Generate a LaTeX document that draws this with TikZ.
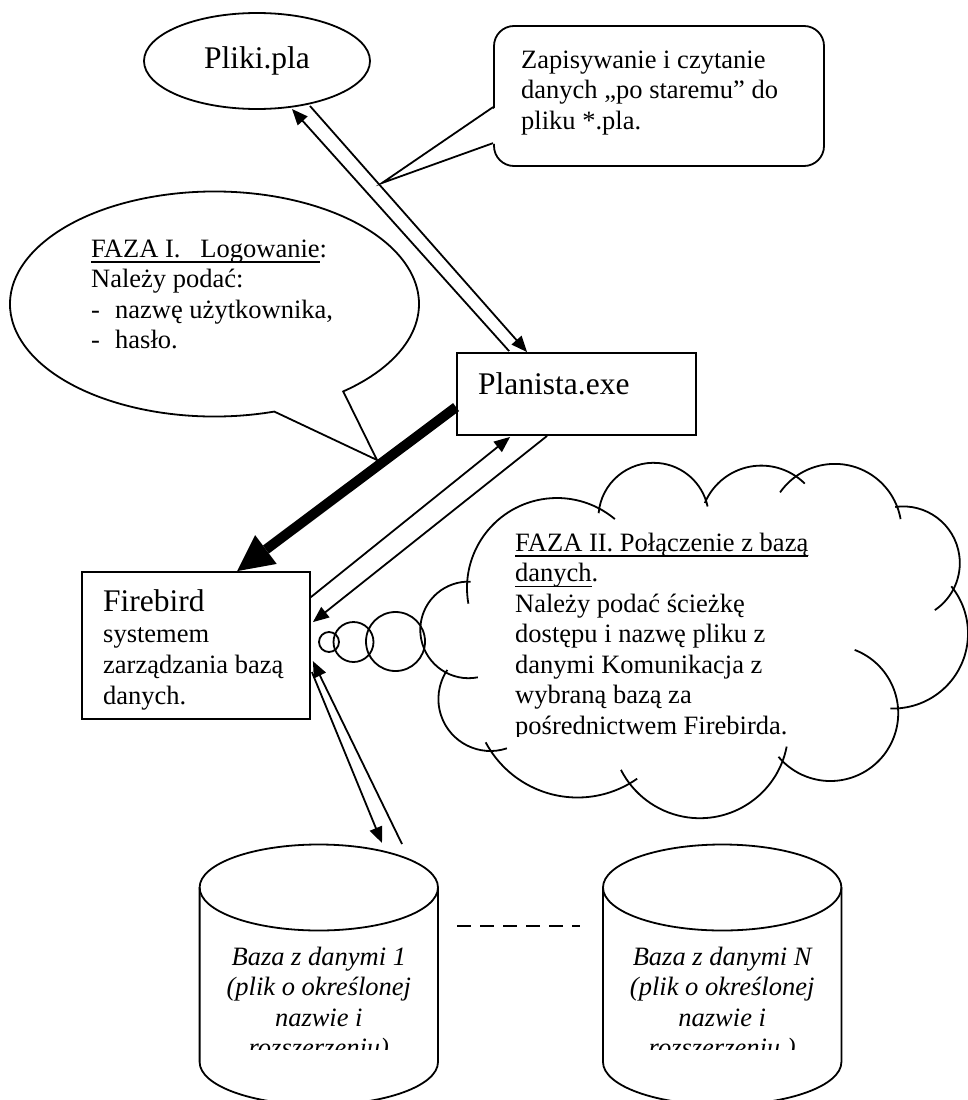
\documentclass[tikz,border=0pt]{standalone}
\usepackage{fontspec}
\setmainfont{Liberation Serif}
\usetikzlibrary{arrows.meta,calc,shapes.geometric}
\newcommand\fsmall{\fontsize{26.5}{30.5}\selectfont}
\newcommand\fbig{\fontsize{31.5}{31}\selectfont}
\newcommand\myul[1]{\setbox0\hbox{#1}\rlap{\rule[-5.5pt]{\wd0}{1.5pt}}\box0}
\newcommand\cloudarc[5]{\draw[ln] ($(#1,#2)+(#4:#3)$) arc[start angle=#4, end angle=#5, radius=#3];}
\tikzset{
  ln/.style={line width=1.8pt},
  box/.style={draw, line width=1.8pt, inner sep=0pt},
  txt/.style={inner sep=0pt, font=\fsmall},
  arr/.style={line width=1.8pt, -{Triangle[length=16pt,width=13pt]}},
}
\begin{document}
\begin{tikzpicture}[x=1pt,y=-1pt]
\useasboundingbox (0,0) rectangle (968,1100);
\fill[white] (0,0) rectangle (968,1100);
\clip (0,0) rectangle (968,1100);

% Pliki.pla
\node[box, ellipse, minimum width=226pt, minimum height=96pt] (pliki) at (257,61) {};
\node[txt, font=\fbig, anchor=base] (plikit) at (257,68) {Pliki.pla};

% rounded callout
\node[box, rounded corners=20pt, minimum width=330pt, minimum height=140pt] (call) at (659,96) {};
\coordinate (ca) at ($(call.north west)+(0,82)$);
\coordinate (cb) at ($(call.north west)+(0,118)$);
\coordinate (calltip) at (382,183);
\fill[white] ($(ca)+(3,0)$) -- (calltip) -- ($(cb)+(3,0)$) -- cycle;
\draw[ln] (ca) -- (calltip) -- (cb);
\node[txt, anchor=base west] (callt) at (521,68) {\begin{tabular}[t]{@{}l@{}}Zapisywanie i czytanie\\danych „po staremu” do\\pliku *.pla.\end{tabular}};

% FAZA I callout
\coordinate (e1) at (214.5,304);
\coordinate (f1tip) at (377,460);
\draw[ln] ($(e1)+(73:204.5 and 112.5)$) arc[start angle=73, end angle=411, x radius=204.5, y radius=112.5] -- (f1tip) -- cycle;
\node[txt, anchor=base west] (f1t) at (91,257) {\begin{tabular}[t]{@{}l@{}}\myul{FAZA I.\hspace{20pt}Logowanie}:\\Należy podać:\\\makebox[24pt][l]{-}nazwę użytkownika,\\\makebox[24pt][l]{-}hasło.\end{tabular}};

% Planista
\node[box, minimum width=239pt, minimum height=82pt] (plan) at (576.5,394) {};
\node[txt, font=\fbig, anchor=base west] (plant) at (478,394) {Planista.exe};

% Firebird
\node[box, minimum width=228pt, minimum height=147pt] (fb) at (196,645.5) {};
\node[txt, font=\fontsize{26.5}{31.2}\selectfont, anchor=base west] (fbt) at (103,611) {\begin{tabular}[t]{@{}l@{}}{\fbig Firebird}\\systemem\\zarządzania bazą\\danych.\end{tabular}};

% arrows Pliki <-> Planista
\draw[arr] ($(plan.north west)+(53,-1)$) -- ($(pliki.center)+(35,48)$);
\draw[arr] ($(pliki.center)+(53,45)$) -- ($(plan.north west)+(71,0)$);

% thick arrow Planista -> Firebird
\draw[line width=10pt, -{Triangle[length=36pt,width=36pt,line width=0pt]}] ($(plan.north west)+(0,55)$) -- ($(fb.north west)+(156,0)$);

% Firebird <-> Planista
\draw[arr] ($(fb.north east)+(0,26)$) -- ($(plan.south west)+(54,1)$);
\draw[arr] ($(plan.south west)+(91,0)$) -- ($(fb.north east)+(2,51)$);

% cylinders
\coordinate (cyl1) at (318.8,887.5);
\coordinate (cyl2) at (722.2,887.5);
\foreach \c in {cyl1,cyl2}{
  \draw[ln] ($(\c)+(-119.2,0)$) -- ($(\c)+(-119.2,174.5)$) arc[start angle=180, end angle=0, x radius=119.2, y radius=43] -- ($(\c)+(119.2,0)$);
  \draw[ln] (\c) ellipse[x radius=119.2, y radius=43];
}
\coordinate (c1a) at (382,843);
\coordinate (c1b) at (402,844);
\draw[arr] ($(fb.north east)+(1,101)$) -- (c1a);
\draw[arr] (c1b) -- ($(fb.north east)+(2,90)$);

\begin{scope}
\clip (200,935) rectangle (842,1049);
\node[txt, anchor=base] (db1) at (318.8,965) {\itshape\begin{tabular}[t]{@{}c@{}}Baza z danymi 1\\(plik o określonej\\nazwie i\\rozszerzeniu)\end{tabular}};
\node[txt, anchor=base] (dbn) at (722.2,965) {\itshape\begin{tabular}[t]{@{}c@{}}Baza z danymi N\\(plik o określonej\\nazwie i\\rozszerzeniu )\end{tabular}};
\end{scope}

\coordinate (d1) at (457,926);
\coordinate (d2) at (580,926);
\draw[line width=2.6pt, dash pattern=on 14pt off 9pt] (d1) -- (d2);

% thought bubbles
\draw[ln] (329,642) circle[radius=10];
\draw[ln] (353.5,642) circle[radius=20];
\draw[ln] (395.5,641.5) circle[radius=29.5];

% cloud
\cloudarc{557}{588}{90}{170}{310}
\cloudarc{653.6}{518}{55.2}{185}{348}
\cloudarc{761.3}{527}{61.4}{203}{315}
\cloudarc{834.8}{530.7}{66.8}{215}{350}
\cloudarc{903.1}{563.1}{56.7}{262}{416}
\cloudarc{893}{633.5}{75}{321}{452}
\cloudarc{830.4}{713.2}{67.8}{291}{500}
\cloudarc{699.8}{729.7}{88.5}{11}{153}
\cloudarc{577.5}{693.5}{104}{55}{152}
\cloudarc{490.4}{699}{52}{71.5}{214}
\cloudarc{468.6}{629.9}{48.3}{79}{272.5}

\begin{scope}
\clip (400,440) rectangle (968,736);
\node[txt, anchor=base west] (cloudt) at (515,551) {\begin{tabular}[t]{@{}l@{}}\myul{FAZA II. Połączenie z bazą}\\\myul{danych}.\\Należy podać ścieżkę\\dostępu i nazwę pliku z\\danymi Komunikacja z\\wybraną bazą za\\pośrednictwem Firebirda.\end{tabular}};
\end{scope}
\end{tikzpicture}
\end{document}
